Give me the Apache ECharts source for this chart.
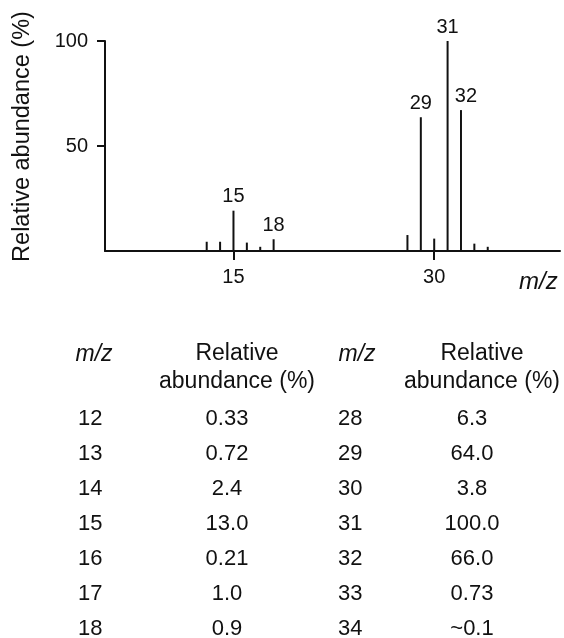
<!DOCTYPE html>
<html>
<head>
<meta charset="utf-8">
<script src="https://cdn.jsdelivr.net/npm/echarts@6/dist/echarts.min.js"></script>
<style>
  html, body { margin: 0; padding: 0; background: #fff; }
  #chart { width: 564px; height: 638px; }
</style>
</head>
<body>
<div id="chart"></div>
<script>
// spectrum peaks (heights)
const mzValues = [13, 14, 15, 16, 17, 18, 28, 29, 30, 31, 32, 33, 34]
const peakHeights = [4.4, 4.4, 19.2, 4, 2, 5.6, 7.6, 63.7, 5.9, 100, 67.1, 3.5, 2]
const labelledPeaks = [15, 18, 29, 31, 32]
const xTicks = [15, 30]
const yTicks = [50, 100]

// table below the plot
const tableMzLeft = ['12', '13', '14', '15', '16', '17', '18']
const tableAbLeft = ['0.33', '0.72', '2.4', '13.0', '0.21', '1.0', '0.9']
const tableMzRight = ['28', '29', '30', '31', '32', '33', '34']
const tableAbRight = ['6.3', '64.0', '3.8', '100.0', '66.0', '0.73', '~0.1']

const FONT = '"Liberation Sans", Arial, Helvetica, sans-serif'
const INK = '#111'

const chart = echarts.init(document.getElementById('chart'), null, { renderer: 'canvas' })

// 峰数据
const peakData = mzValues.map((mz, i) => {
  const item = { value: [mz, peakHeights[i]] }
  if (labelledPeaks.includes(mz)) {
    item.label = {
      show: true,
      position: 'top',
      distance: 4,
      formatter: String(mz),
      offset: mz === 32 ? [5, 0] : [0, 0]
    }
  }
  return item
})

// 表格文字
const tableText = []
const rowTop = 419
const rowStep = 35
const addText = (text, x, y, opts = {}) => {
  tableText.push({
    type: 'text',
    x: x,
    y: y,
    silent: true,
    style: {
      text: text,
      fill: INK,
      font: (opts.italic ? 'italic ' : '') + (opts.size || 22) + 'px ' + FONT,
      textAlign: opts.align || 'center',
      textVerticalAlign: 'middle'
    }
  })
}
addText('m/z', 94, 355, { italic: true, size: 23 })
addText('Relative', 237, 354, { size: 23 })
addText('abundance (%)', 237, 382, { size: 23 })
addText('m/z', 357, 355, { italic: true, size: 23 })
addText('Relative', 482, 354, { size: 23 })
addText('abundance (%)', 482, 382, { size: 23 })
tableMzLeft.forEach((t, i) => addText(t, 78, rowTop + i * rowStep, { align: 'left' }))
tableAbLeft.forEach((t, i) => addText(t, 227, rowTop + i * rowStep))
tableMzRight.forEach((t, i) => addText(t, 338, rowTop + i * rowStep, { align: 'left' }))
tableAbRight.forEach((t, i) => addText(t, 472, rowTop + i * rowStep))

const option = {
  backgroundColor: '#fff',
  animation: false,
  textStyle: { fontFamily: FONT, color: INK },
  grid: { left: 105, right: 4, top: 41, bottom: 387 },
  xAxis: {
    type: 'value',
    min: 5.4,
    max: 39.4,
    name: 'm/z',
    nameLocation: 'end',
    nameGap: -41,
    nameTextStyle: {
      fontStyle: 'italic',
      fontSize: 24,
      color: INK,
      fontFamily: FONT,
      verticalAlign: 'top',
      padding: [19, 0, 0, 0]
    },
    axisLine: { show: true, lineStyle: { color: '#111', width: 2 } },
    axisTick: { show: true, length: 9, customValues: xTicks, lineStyle: { color: '#111', width: 2 } },
    axisLabel: { customValues: xTicks, margin: 16, fontSize: 20, color: INK, fontFamily: FONT },
    splitLine: { show: false }
  },
  yAxis: {
    type: 'value',
    min: 0,
    max: 100,
    name: 'Relative abundance (%)',
    nameLocation: 'middle',
    nameGap: 70,
    nameTextStyle: { fontSize: 23.5, color: INK, fontFamily: FONT, padding: [0, 0, 0, 19] },
    axisLine: { show: true, lineStyle: { color: '#111', width: 2 } },
    axisTick: { show: true, length: 8, customValues: yTicks, lineStyle: { color: '#111', width: 2 } },
    axisLabel: { customValues: yTicks, margin: 17, fontSize: 20, color: INK, fontFamily: FONT },
    splitLine: { show: false }
  },
  series: [
    {
      type: 'bar',
      barWidth: 2,
      data: peakData,
      itemStyle: { color: '#111' },
      label: { color: INK, fontSize: 20, fontFamily: FONT },
      emphasis: { disabled: true }
    }
  ],
  graphic: tableText
}

chart.setOption(option)
</script>
</body>
</html>
